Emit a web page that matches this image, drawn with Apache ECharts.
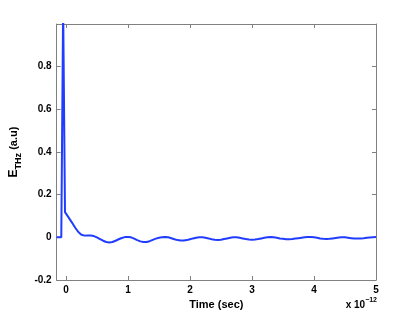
<!DOCTYPE html>
<html>
<head>
<meta charset="utf-8">
<script src="https://cdn.jsdelivr.net/npm/echarts@6/dist/echarts.min.js"></script>
<style>html,body{margin:0;padding:0;background:#fff}#c{width:415px;height:316px}</style>
</head>
<body>
<div id="c"></div>
<script>
// Time in units of 1e-12 s
var timeValues = [-0.15,-0.075,-0.045,-0.015,0.0,0.05,0.10,0.15,0.20,0.25,0.30,0.35,0.40,0.45,0.50,0.55,0.60,0.65,0.70,0.75,0.80,0.85,0.90,0.95,1.00,1.05,1.10,1.15,1.20,1.25,1.30,1.35,1.40,1.45,1.50,1.55,1.60,1.65,1.70,1.75,1.80,1.85,1.90,1.95,2.00,2.05,2.10,2.15,2.20,2.25,2.30,2.35,2.40,2.45,2.50,2.55,2.60,2.65,2.70,2.75,2.80,2.85,2.90,2.95,3.00,3.05,3.10,3.15,3.20,3.25,3.30,3.35,3.40,3.45,3.50,3.55,3.60,3.65,3.70,3.75,3.80,3.85,3.90,3.95,4.00,4.05,4.10,4.15,4.20,4.25,4.30,4.35,4.40,4.45,4.50,4.55,4.60,4.65,4.70,4.75,4.80,4.85,4.90,4.95,5.00];
var fieldValues = [0,0,1.08,0.118,0.112,0.09,0.068,0.045,0.025,0.012,0.008,0.009,0.009,0.006,0.0,-0.008,-0.016,-0.022,-0.024,-0.022,-0.016,-0.009,-0.003,0.001,0.002,0.0,-0.006,-0.013,-0.019,-0.022,-0.022,-0.018,-0.012,-0.006,-0.002,0.0,0.001,0.0,-0.004,-0.009,-0.013,-0.015,-0.015,-0.013,-0.009,-0.005,-0.002,0.0,0.0,-0.002,-0.005,-0.009,-0.011,-0.012,-0.011,-0.008,-0.005,-0.002,0.0,0.0,-0.002,-0.005,-0.008,-0.010,-0.011,-0.010,-0.008,-0.005,-0.002,0.0,0.001,0.0,-0.002,-0.005,-0.007,-0.009,-0.009,-0.008,-0.006,-0.004,-0.002,0.0,0.001,0.001,0.0,-0.002,-0.005,-0.007,-0.008,-0.007,-0.005,-0.003,-0.001,0.0,0.0,-0.002,-0.004,-0.006,-0.006,-0.005,-0.004,-0.002,-0.001,0.0,0.001];
var xTicks = [0,1,2,3,4,5];
var yTicks = [-0.2,0,0.2,0.4,0.6,0.8];

var font = "'Liberation Sans', Arial, sans-serif";
var axisColor = '#808080';
var data = timeValues.map(function(t,i){return [t, fieldValues[i]];});

function xAxisCfg(pos, showLabel, name){
  return {
    type:'value', position:pos, min:-0.15, max:5,
    name: name || '', nameLocation:'middle', nameGap:14,
    nameTextStyle:{fontFamily:font,fontWeight:'bold',fontSize:11,color:'#000'},
    axisLine:{show:true,onZero:false,lineStyle:{color:axisColor,width:1}},
    axisTick:{show:true,inside:true,length:4,customValues:xTicks,lineStyle:{color:axisColor}},
    axisLabel:{show:showLabel,customValues:xTicks,margin:5,fontFamily:font,fontWeight:'bold',fontSize:10,color:'#000'},
    splitLine:{show:false}
  };
}
function yAxisCfg(pos, showLabel, name){
  return {
    type:'value', position:pos, min:-0.2, max:1.0,
    name: name || '', nameLocation:'middle', nameGap:33, nameRotate:90,
    nameTextStyle:{rich:{
      E:{fontFamily:font,fontWeight:'bold',fontSize:12,color:'#000'},
      e:{fontFamily:font,fontWeight:'bold',fontSize:11,color:'#000'},
      s:{fontFamily:font,fontWeight:'bold',fontSize:9,color:'#000',padding:[10,0,0,0]}
    }},
    axisLine:{show:true,onZero:false,lineStyle:{color:axisColor,width:1}},
    axisTick:{show:true,inside:true,length:4,customValues:yTicks,lineStyle:{color:axisColor}},
    axisLabel:{show:showLabel,customValues:yTicks,margin:5,fontFamily:font,fontWeight:'bold',fontSize:10,color:'#000',
      formatter:function(v){return String(Math.round(v*10)/10);}},
    splitLine:{show:false}
  };
}

var chart = echarts.init(document.getElementById('c'), null, {renderer:'canvas'});
chart.setOption({
  animation:false,
  backgroundColor:'#fff',
  grid:{left:54,right:39,top:24,bottom:36,containLabel:false},
  xAxis:[xAxisCfg('bottom', true, 'Time (sec)'), xAxisCfg('top', false)],
  yAxis:[yAxisCfg('left', true, '{E|E}{s|THz}{e| (a.u)}'), yAxisCfg('right', false)],
  graphic:[{
    type:'text', right:38, top:297,
    style:{
      text:'{b|x 10}{p|\u221212}',
      rich:{
        b:{fontFamily:font,fontWeight:'bold',fontSize:10,fill:'#000'},
        p:{fontFamily:font,fontWeight:'bold',fontSize:7,fill:'#000',padding:[0,0,9,0]}
      }
    }
  }],
  series:[{
    type:'line', xAxisIndex:0, yAxisIndex:0, data:data, showSymbol:false, clip:true,
    lineStyle:{color:'#1f3cff',width:2}, itemStyle:{color:'#1f3cff'}
  }]
});
</script>
</body>
</html>
